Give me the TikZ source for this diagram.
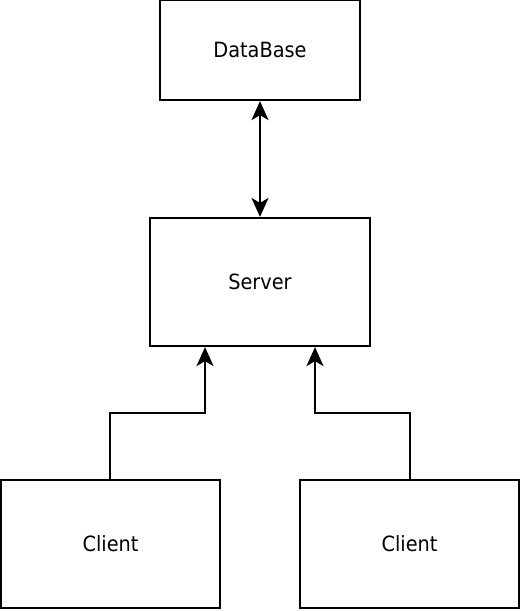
\documentclass[tikz,border=0pt]{standalone}
\usepackage{fontspec}
\setmainfont{DejaVu Sans}[FakeStretch=0.92]
\usetikzlibrary{arrows.meta}
\begin{document}
\begin{tikzpicture}[x=1pt,y=1pt,
  box/.style={draw=black,line width=2.2pt,fill=white,inner sep=0pt,font=\fontsize{21}{25}\selectfont},
  conn/.style={draw=black,line width=2.2pt},
  endtip/.style={-{Stealth[length=19pt 0 0,width=17pt 0 0,inset=5pt]}},
  bothtips/.style={{Stealth[length=19pt 0 0,width=17pt 0 0,inset=5pt]}-{Stealth[length=19pt 0 0,width=17pt 0 0,inset=5pt]}}]
\useasboundingbox (0,0) rectangle (522,-611);
\node[box,minimum width=200pt,minimum height=100pt] (db) at (260,-50) {DataBase};
\node[box,minimum width=220pt,minimum height=128pt] (srv) at (260,-282) {Server};
\node[box,minimum width=219pt,minimum height=128pt] (c1) at (110.5,-544) {Client};
\node[box,minimum width=219pt,minimum height=128pt] (c2) at (409.5,-544) {Client};
\draw[conn,bothtips] (db.south) -- (srv.north);
\coordinate (a1) at (110,-413);
\coordinate (a2) at (410,-413);
\draw[conn,endtip] (c1.north -| a1) -- (a1) -- (a1 -| 205,0) -- (srv.south -| 205,0);
\draw[conn,endtip] (c2.north -| a2) -- (a2) -- (a2 -| 315,0) -- (srv.south -| 315,0);
\end{tikzpicture}
\end{document}
